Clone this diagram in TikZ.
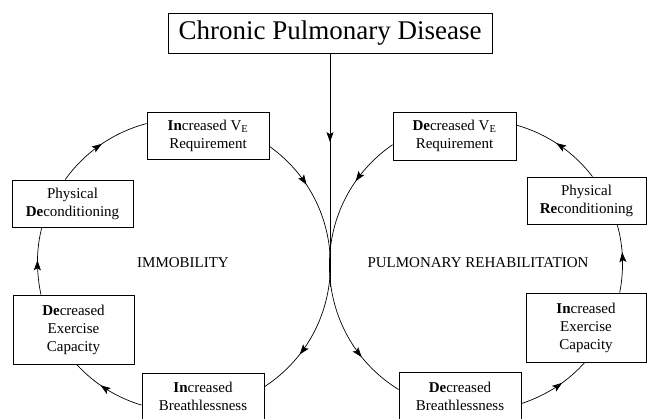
\documentclass[tikz,border=0pt]{standalone}
\usepackage{fontspec}
\setmainfont{Liberation Serif}
\usetikzlibrary{arrows.meta,decorations.markings}
\begin{document}
\begin{tikzpicture}[x=1pt, y=1pt,
    box/.style={draw, line width=0.8pt, fill=white, align=center, inner sep=0pt,
      minimum width=122pt, minimum height=47pt, font=\fontsize{15}{18}\selectfont},
    tallbox/.style={box, minimum height=69pt},
    flow/.style={line width=0.7pt},
    tip at/.style={postaction={decorate, decoration={markings,
      mark=at position #1 with {\arrow{Stealth[length=10pt, width=7pt, inset=2pt]}}}}}]
  \useasboundingbox (0,0) rectangle (647,419);
  % 标题与竖线
  \node[draw, line width=0.8pt, minimum width=324pt, minimum height=40pt, inner sep=0pt,
    font=\fontsize{27}{32}\selectfont] (cpd) at (330,386) {Chronic Pulmonary Disease};
  \coordinate (meet) at (330,132);
  \draw[line width=0.8pt, tip at=0.38] (cpd.south) -- (meet);

  % 左环
  \node[box] (ive) at (208,283.5) {\textbf{In}creased V\textsubscript{E}\\Requirement};
  \node[box, minimum width=121pt] (pd) at (72.5,215.5) {Physical\\\textbf{De}conditioning};
  \node[tallbox, minimum width=121pt] (dec) at (73.5,89.5) {\textbf{De}creased\\Exercise\\Capacity};
  \node[box] (ib) at (203,22.5) {\textbf{In}creased\\Breathlessness};
  \node[font=\fontsize{15}{18}\selectfont] (immob) at (183,156) {IMMOBILITY};

  \draw[flow, tip at=0.19, tip at=0.83] (ive.-10) to[out=-35.6, in=33.2, looseness=1.09] (ib.9);
  \draw[flow, tip at=0.59] (ib.-172) to[out=163.3, in=-47.3, looseness=0.87] (dec.-85);
  \draw[flow, tip at=0.51] (dec.133) to[out=101.9, in=-105.1, looseness=0.86] (pd.-142);
  \draw[flow, tip at=0.51] (pd.107) to[out=54.4, in=-165.3, looseness=0.88] (ive.169);

  % 右环
  \node[box, minimum width=123pt, minimum height=48pt] (dv) at (454.5,283) {\textbf{De}creased V\textsubscript{E}\\Requirement};
  \node[box, minimum width=119pt] (pr) at (586.5,218.5) {Physical\\\textbf{Re}conditioning};
  \node[tallbox, minimum width=120pt] (iec) at (586,91.5) {\textbf{In}creased\\Exercise\\Capacity};
  \node[box, minimum height=48pt] (db) at (460,23) {\textbf{De}creased\\Breathlessness};
  \node[font=\fontsize{15}{18}\selectfont] (rehab) at (478,156) {PULMONARY REHABILITATION};

  \draw[flow, tip at=0.18, tip at=0.83] (dv.-172) to[out=214.6, in=148.2, looseness=1.1] (db.174);
  \draw[flow, tip at=0.6] (db.-7) to[out=18, in=228.4, looseness=0.87] (iec.-92);
  \draw[flow, tip at=0.59] (iec.46) to[out=78.9, in=-73.7, looseness=0.86] (pr.-38);
  \draw[flow, tip at=0.53] (pr.76) to[out=127.1, in=-15.9, looseness=0.87] (dv.10);
\end{tikzpicture}
\end{document}
